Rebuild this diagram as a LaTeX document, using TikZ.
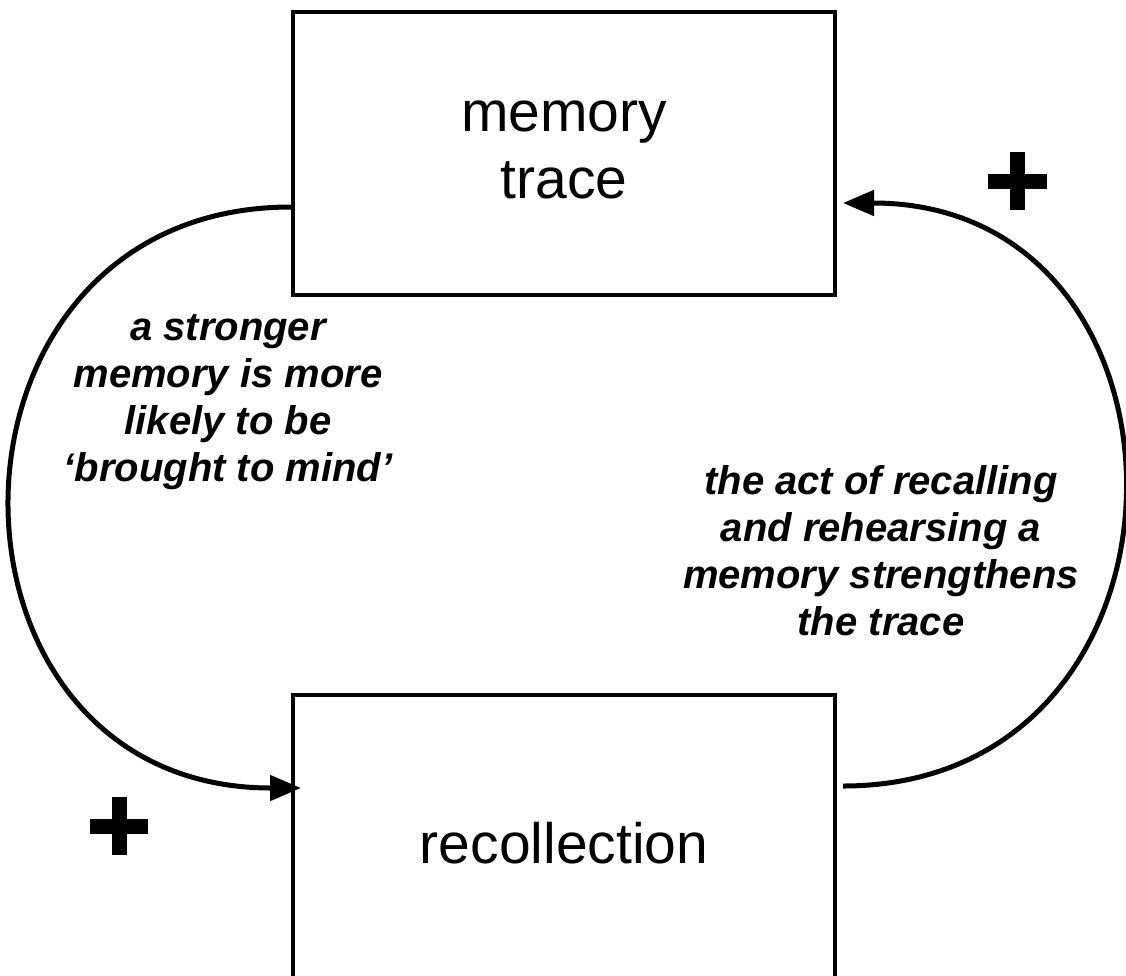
\documentclass[tikz,border=0pt]{standalone}
\usepackage{fontspec}
\setmainfont{Liberation Sans}
\usetikzlibrary{arrows.meta}

\begin{document}
\begin{tikzpicture}[x=1pt,y=-1pt,
  box/.style={draw=black, line width=4pt, rectangle, inner sep=0pt},
  boxtext/.style={font=\fontsize{57}{67}\selectfont, align=center},
  note/.style={font=\fontsize{40}{47}\selectfont\bfseries\itshape, align=center},
  loop/.style={line width=5pt, -{Triangle[length=31pt,width=25pt]}},
  plusbar/.style={fill=black}]
  \useasboundingbox (0,0) rectangle (1126,975);
  \clip (0,0) rectangle (1126,975);

  % the two boxes
  \node[box, minimum width=542pt, minimum height=283pt] (mem) at (564,153) {};
  \node[boxtext] (memtext) at (564,150) {memory\\trace};
  \node[box, minimum width=542pt, minimum height=296pt] (rec) at (564,843) {};
  \node[boxtext] (rectext) at (564,843) {recollection};

  % attachment points of the loop arcs
  \coordinate (memL) at ([yshift=-54pt]mem.west);
  \coordinate (memR) at ([xshift=6pt,yshift=-50pt]mem.east);
  \coordinate (recL) at ([xshift=10pt,yshift=55pt]rec.west);
  \coordinate (recR) at ([xshift=6pt,yshift=57pt]rec.east);

  % feedback arcs
  \draw[loop] (memL) .. controls (-83,207) and (-83,788) .. (recL);
  \draw[loop] (recR) .. controls (1216,786) and (1216,203) .. (memR);

  % plus signs
  \fill[plusbar] (988,174) rectangle (1047,189);
  \fill[plusbar] (1010,152) rectangle (1025,210);
  \fill[plusbar] (90,819) rectangle (148,834);
  \fill[plusbar] (112,797) rectangle (127,855);

  % labels of the arcs
  \node[note] (leftnote) at (228,402) {a stronger\\memory is more\\likely to be\\‘brought to mind’};
  \node[note] (rightnote) at (881,551) {the act of recalling\\and rehearsing a\\memory strengthens\\the trace};
\end{tikzpicture}
\end{document}
